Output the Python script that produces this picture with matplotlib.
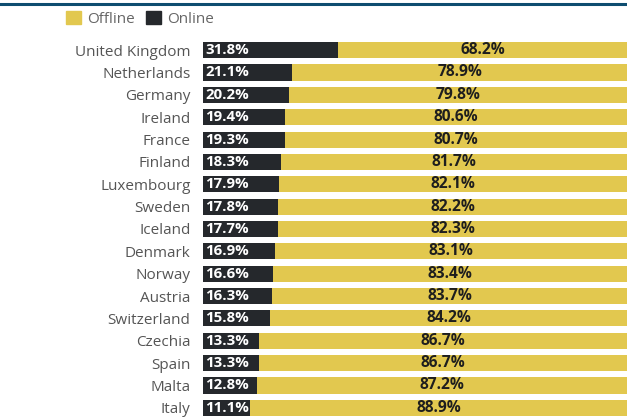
import matplotlib.pyplot as plt
from matplotlib.lines import Line2D
from matplotlib.patches import Patch

plt.rcParams['font.family'] = ['Open Sans', 'DejaVu Sans']

countries = ["United Kingdom", "Netherlands", "Germany", "Ireland", "France",
             "Finland", "Luxembourg", "Sweden", "Iceland", "Denmark", "Norway",
             "Austria", "Switzerland", "Czechia", "Spain", "Malta", "Italy"]
online = [31.8, 21.1, 20.2, 19.4, 19.3, 18.3, 17.9, 17.8, 17.7, 16.9, 16.6,
          16.3, 15.8, 13.3, 13.3, 12.8, 11.1]
offline = [68.2, 78.9, 79.8, 80.6, 80.7, 81.7, 82.1, 82.2, 82.3, 83.1, 83.4,
           83.7, 84.2, 86.7, 86.7, 87.2, 88.9]

YELLOW = "#e2c84f"
DARK = "#25282c"

fig = plt.figure(figsize=(6.27, 4.19), dpi=100)
ax = fig.add_axes([203 / 627, 0.0, 1 - 203 / 627, 0.907])

ypos = list(range(len(countries)))
ax.barh(ypos, online, height=0.72, color=DARK)
ax.barh(ypos, offline, left=online, height=0.72, color=YELLOW)

for y, on, off in zip(ypos, online, offline):
    ax.text(0.5, y, f"{on}%", color="white", fontsize=10.8, fontweight="bold",
            va="center", ha="left")
    ax.text(on + off / 2, y, f"{off}%", color="#1e1e1e", fontsize=11.2,
            fontweight="bold", va="center", ha="center")

ax.set_xlim(0, 100)
ax.set_ylim(len(countries) - 0.5, -0.5)
ax.set_yticks(ypos)
ax.set_yticklabels(countries, fontsize=11, color="#555555")
ax.tick_params(axis="y", length=0, pad=9)
ax.set_xticks([])
for s in ax.spines.values():
    s.set_visible(False)

handles = [Patch(color=YELLOW, label="Offline"), Patch(color=DARK, label="Online")]
fig.legend(handles=handles, loc="upper left", bbox_to_anchor=(55 / 627, 1.0),
           ncol=2, frameon=False, fontsize=11, handlelength=1.0,
           handleheight=1.0, handletextpad=0.4, columnspacing=0.7,
           labelcolor="#666666", borderaxespad=0.3)

# rule across the top
fig.add_artist(Line2D([0, 1], [1 - 4 / 419, 1 - 4 / 419], color="#0e4d70",
                      linewidth=2.2, transform=fig.transFigure))

fig.savefig("out.png", dpi=100)
